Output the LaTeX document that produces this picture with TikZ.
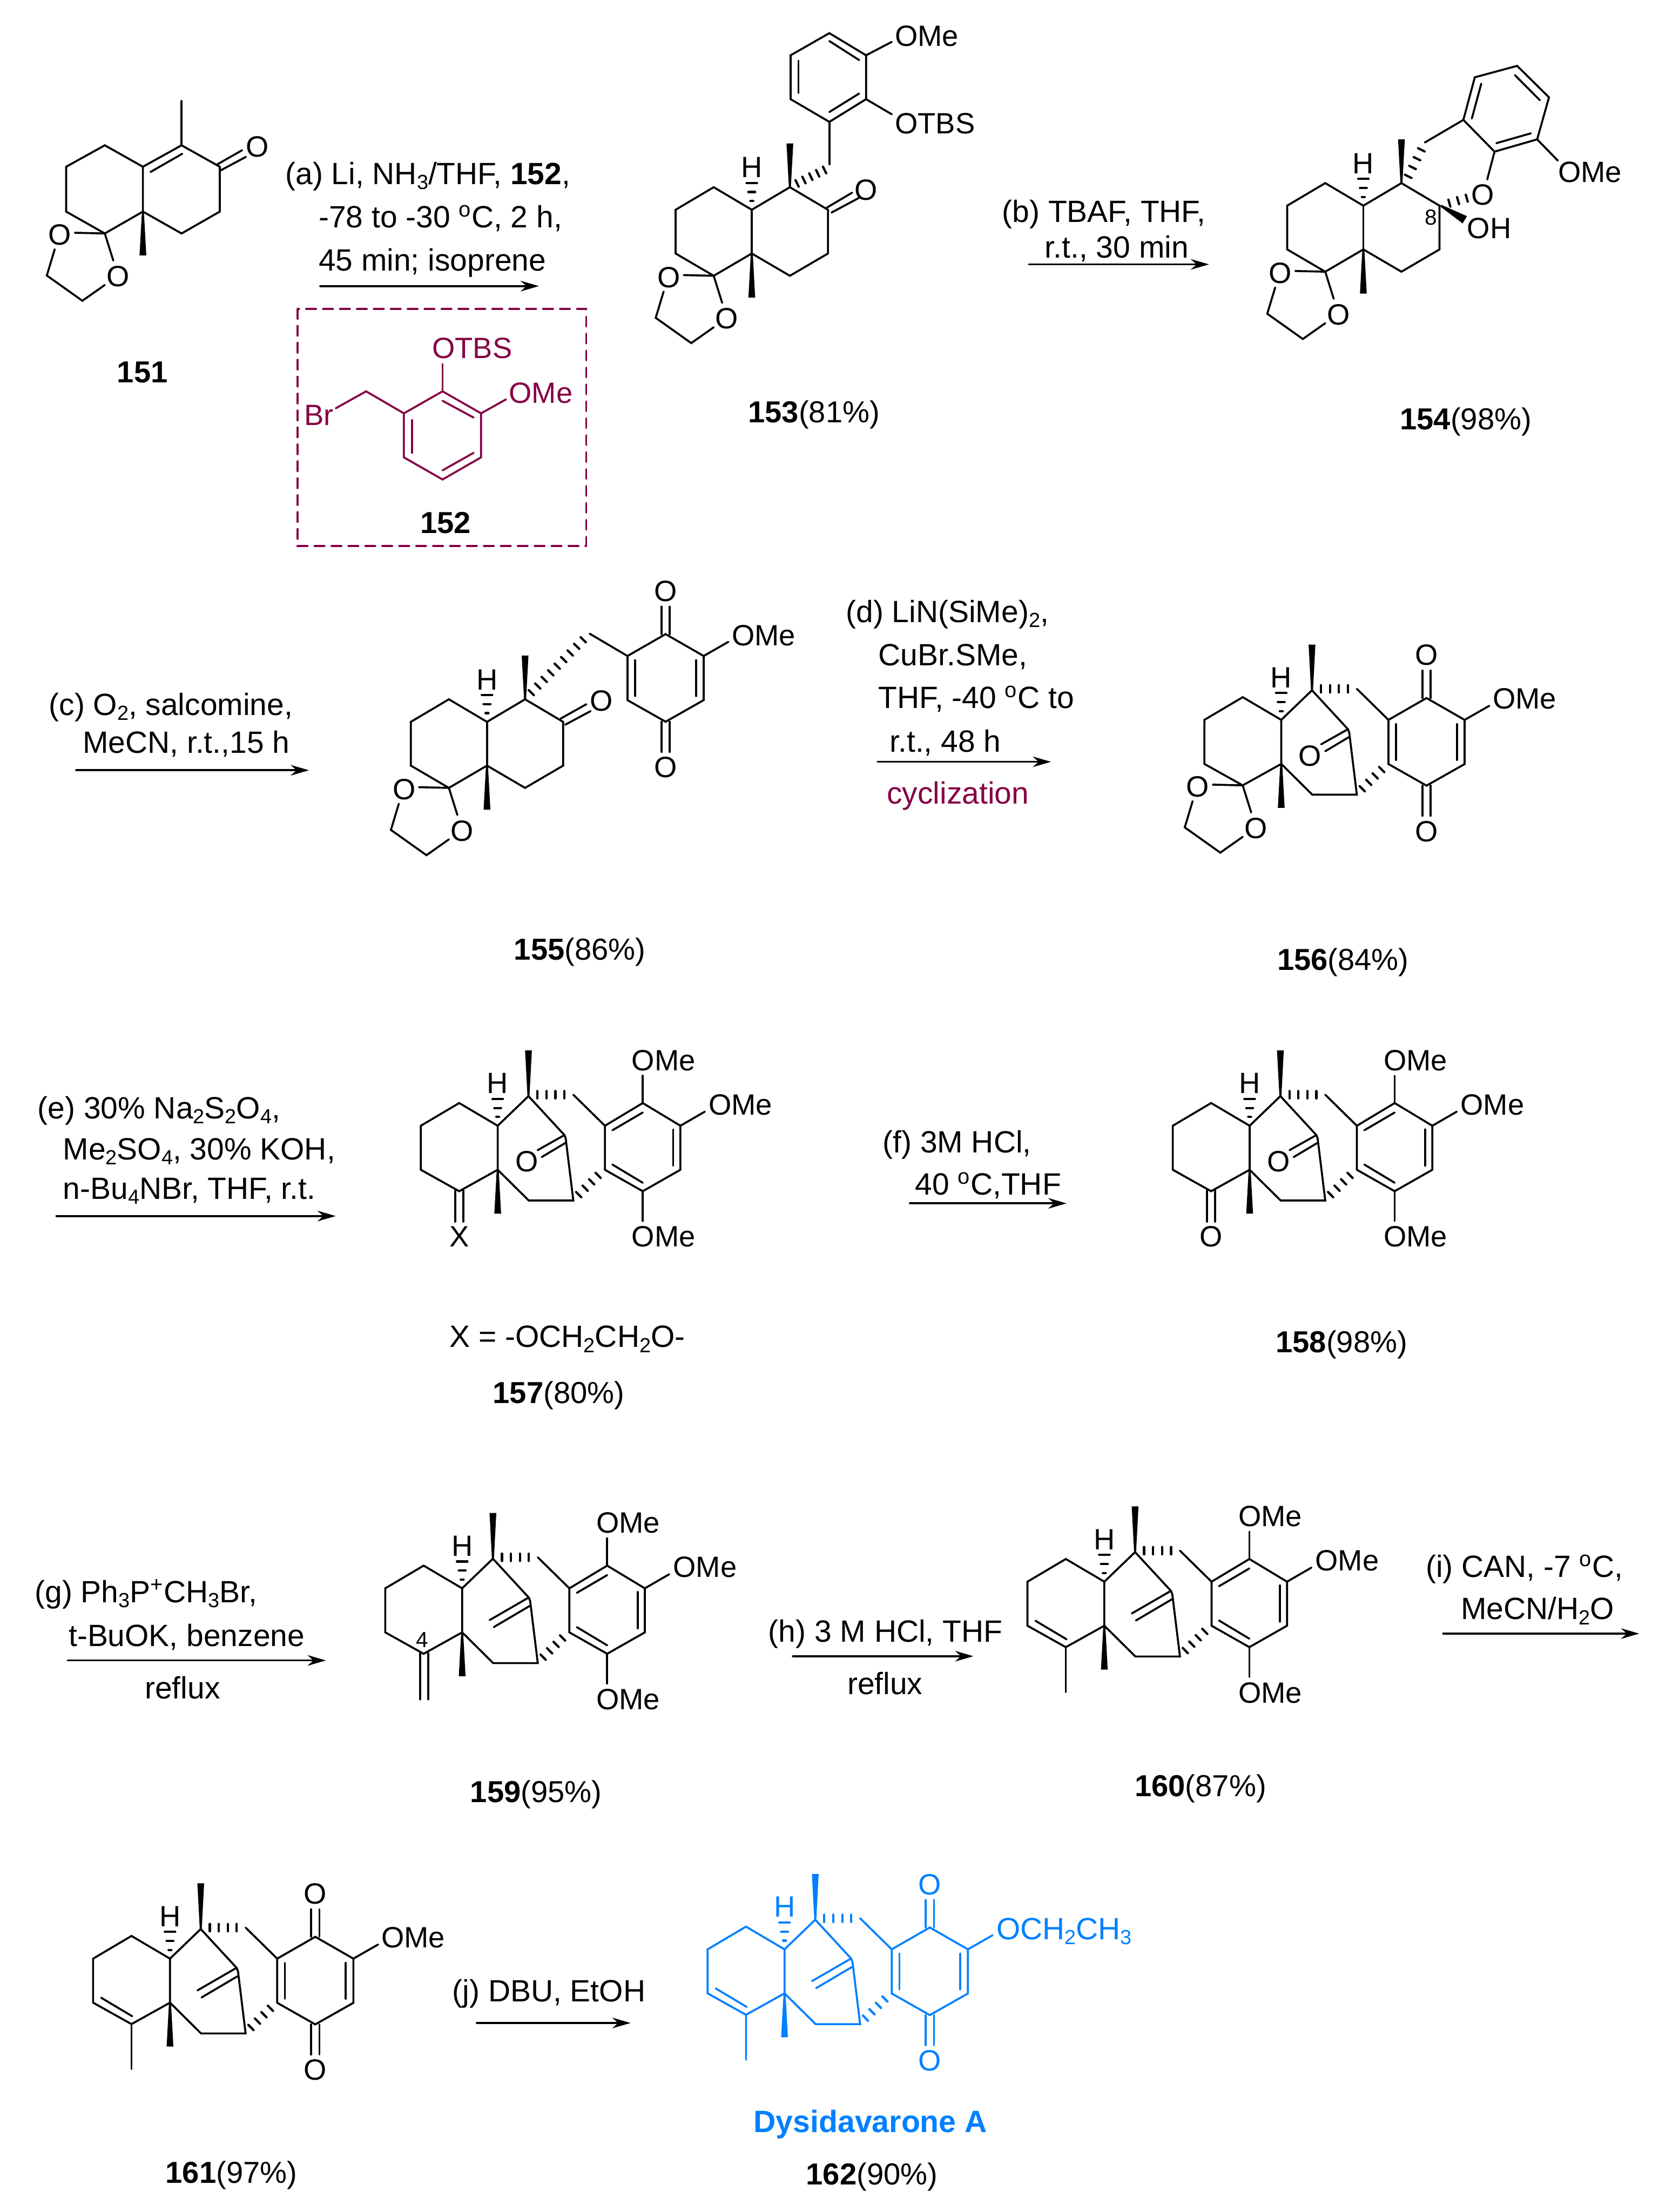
\documentclass[tikz,border=0pt]{standalone}
\usepackage{fontspec}
\setmainfont{Liberation Sans}
\usetikzlibrary{calc,arrows.meta}

\definecolor{plum}{HTML}{850045}
\definecolor{dysblue}{HTML}{0080FF}

\newcommand{\sbs}[1]{\raisebox{-3.6pt}{\fontsize{14.5}{16}\selectfont #1}}

\tikzset{
  every node/.style={inner sep=0pt,font=\fontsize{20.8}{24}\selectfont},
  small/.style={font=\fontsize{15.5}{18}\selectfont},
  lab/.style={font=\fontsize{21.5}{24}\selectfont},
  rgt/.style={anchor=base west,font=\fontsize{21.8}{24}\selectfont},
  rxn/.style={-{Stealth[length=13pt,width=7.5pt]}},
  hashln/.style={line width=1.6pt,line cap=round},
  boxln/.style={plum,dash pattern=on 7pt off 5pt},
}

% wedge from narrow end to wide end
\newcommand{\wedgeb}[3][2.4pt]{%
  \fill ($#2!.7pt!90:#3$) -- ($#2!.7pt!-90:#3$) -- ($#3!#1!90:#2$) -- ($#3!#1!-90:#2$) -- cycle;
}
% n short strokes between two points
\newcommand{\hashb}[3]{%
  \foreach \k in {1,...,#3}{%
    \pgfmathsetmacro{\frc}{(\k-1)/(#3-1)}
    \draw[hashln] ($($#1!2.6pt!90:#2$)!\frc!($#2!2.6pt!-90:#1$)$) -- ($($#1!2.6pt!-90:#2$)!\frc!($#2!2.6pt!90:#1$)$);
  }
}
\newcommand{\hydrogen}{%
  \node (h) at (0,-30) {H};
  \draw[hashln] (-3.7,-19) -- (3.7,-19);
  \draw[hashln] (-2.4,-12.6) -- (2.4,-12.6);
  \draw[hashln] (-1,-6.2) -- (1,-6.2);
}
\newcommand{\ketal}{%
  \draw (0,0) -- (-21.2,-0.5);
  \draw (0,0) -- (6,19.2);
  \draw (-35.5,11.2) -- (-41.1,29.8) -- (-15.9,47.7) -- (0,36.5);
  \node (o1) at (-31.8,1) {O};
  \node (o2) at (9.3,30.4) {O};
}
\newcommand{\decalin}{%
  \draw (0,0) -- (-27,-16) -- (-54,0) -- (-54,31) -- (-27,46.8) -- (0,31) -- (27,46.8) -- (54,31) -- (54,0) -- (27,-16) -- cycle;
  \draw (0,0) -- (0,31);
  \wedgeb{(27,-16)}{(27,-47)}
  \wedgeb{(0,31)}{(0,62.3)}
  \hydrogen
  \begin{scope}[shift={(-27,46.8)}]
    \ketal
  \end{scope}
}
% ring, bridge and the link to the aromatic ring
\newcommand{\bridged}{%
  \draw (0,0) -- (-27.3,-16.1) -- (-54.5,0) -- (-54.5,31.2) -- (-27.3,46.4) -- (0,31.2) -- cycle;
  \draw (0,31.2) -- (22,53) -- (53.6,53) -- (48.2,9) -- (47.3,6.6) -- (21.8,-21) -- (0,0);
  \wedgeb{(21.8,-21)}{(21.8,-53.4)}
  \wedgeb{(0,31.2)}{(0,62.3)}
  \hydrogen
  \hashb{(28.2,-22)}{(47.3,-22)}{4}
  \hashb{(57.4,48.8)}{(71.2,35.2)}{4}
  \draw (53.6,-22) -- (76,0);
}
\newcommand{\bridgeco}{%
  \draw (46.4,7.1) -- (28.3,17.3);
  \draw (47.8,12.3) -- (31.2,22.2);
  \node (o3) at (20.5,25.4) {O};
}
\newcommand{\bridgech}{%
  \draw (46.3,7) -- (19.5,22.5);
  \draw (48,12.4) -- (22.4,27.5);
}
\newcommand{\cyclohexene}{%
  \draw (-48.8,27.7) -- (-26.8,40.8);
  \draw (-27.3,46.4) -- (-27.3,78.3);
}
\newcommand{\arene}{%
  \begin{scope}[shift={(76,0)}]
    \draw (0,0) -- (26.8,-16.1) -- (53.5,0) -- (53.5,31.2) -- (26.8,46.4) -- (0,31.2) -- cycle;
    \draw (5.3,3.2) -- (26.8,-9.4);
    \draw (48.4,2.6) -- (48.4,28.3);
    \draw (5.3,27.5) -- (26.8,40.4);
    \draw (26.8,-16.1) -- (26.8,-35.5);
    \draw (53.5,0) -- (70.8,-10);
    \draw (26.8,46.4) -- (26.8,67.5);
    \node (ome1) at (41.6,-46.3) {OMe};
    \node (ome2) at (96.1,-15) {OMe};
    \node (ome3) at (41.6,78.7) {OMe};
  \end{scope}
}
\newcommand{\quinone}{%
  \draw (0,0) -- (27,-15.5) -- (54,0) -- (54,31.3) -- (27,46.6) -- (0,31.3) -- cycle;
  \draw (5.4,3) -- (5.4,28.4);
  \draw (48.6,3) -- (48.6,28.4);
  \draw (24.1,-15.5) -- (24.1,-35);
  \draw (29.9,-15.5) -- (29.9,-35);
  \draw (24.1,46.6) -- (24.1,68);
  \draw (29.9,46.6) -- (29.9,68);
  \draw (54,0) -- (71.5,-10);
  \node (o4) at (27,-46) {O};
  \node (o5) at (27,79) {O};
}

\begin{document}
\begin{tikzpicture}[x=1pt,y=-1pt,line width=1.4pt,line cap=round]
  \useasboundingbox (0,0) rectangle (1190,1568);

  % 151
  \draw (128.7,71.6) -- (128.7,103);
  \draw (128.7,103) -- (155.8,118.2) -- (155.8,150) -- (128.7,165.5) -- (101.3,150) -- (101.3,118.2) -- cycle;
  \draw (101.3,118.2) -- (74.3,103) -- (46.9,118.2) -- (46.9,150) -- (74.3,165.5) -- (101.3,150);
  \draw (106.7,121.9) -- (129.2,109);
  \draw (153.4,116.9) -- (171.6,106.5);
  \draw (156,121) -- (174.3,111.2);
  \node (o151) at (182.3,104) {O};
  \wedgeb{(101.3,150)}{(101.3,181)}
  \begin{scope}[shift={(74.3,165.5)},name prefix=m151-]
    \ketal
  \end{scope}
  \node[lab] (n151) at (101,264) {\textbf{151}};

  % step a
  \node[rgt] (a1) at (201.6,130.6) {(a) Li, NH\sbs{3}/THF, \textbf{152},};
  \node[rgt] (a2) at (225.2,161.2) {-78 to -30 \textsuperscript{o}C, 2 h,};
  \node[rgt] (a3) at (225.2,192) {45 min; isoprene};
  \coordinate (a4) at (227,202.8);
  \coordinate (a5) at (382,202.8);
  \draw[rxn] (a4) -- (a5);

  % 152
  \draw[boxln] (211,219) rectangle (415.5,387);
  \begin{scope}[plum]
    \draw (313.7,277.4) -- (341,293) -- (341,324.2) -- (313.7,339.9) -- (286.3,324.2) -- (286.3,293) -- cycle;
    \draw (313.7,284.1) -- (335.7,296);
    \draw (292.2,297.8) -- (292.2,321);
    \draw (313.7,333.4) -- (335.7,321);
    \draw (313.7,277.4) -- (313.7,258);
    \draw (341,293) -- (358.7,283.1);
    \draw (286.3,293) -- (259.5,277.4) -- (238,289.4);
    \node (otbs152) at (334.7,247) {OTBS};
    \node (ome152) at (383.4,278.7) {OMe};
    \node (br152) at (226,294.3) {Br};
  \end{scope}
  \node[lab] (n152) at (315.8,370.7) {\textbf{152}};

  % 153
  \begin{scope}[shift={(532.9,148.7)},name prefix=m153-]
    \decalin
    \draw (53,-1.4) -- (71.1,-12.1);
    \draw (56.5,2) -- (76.1,-8.5);
    \node (o) at (81.1,-14.1) {O};
    \hashb{(32.1,-18.7)}{(51.6,-28.2)}{5}
    \draw (55,-32.2) -- (55,-62.3);
    \draw (55,-62.3) -- (81,-78.4) -- (81,-109.5) -- (55,-125.2) -- (27.5,-109.5) -- (27.5,-78.4) -- cycle;
    \draw (76.1,-82.4) -- (55,-69.3);
    \draw (76.1,-106.1) -- (55,-119.6);
    \draw (33.1,-105.7) -- (33.1,-82.7);
    \draw (81,-109.5) -- (99.2,-119);
    \draw (81,-78.4) -- (99.2,-67.7);
    \node (ome) at (124,-123) {OMe};
    \node (otbs) at (129.9,-61.3) {OTBS};
  \end{scope}
  \node[lab] (n153) at (577,294) {\textbf{153}(81\%)};

  % step b
  \node[rgt] (b1) at (709.7,157.7) {(b) TBAF, THF,};
  \node[rgt] (b2) at (740,182.8) {r.t., 30 min};
  \coordinate (b3) at (729.3,187.4);
  \coordinate (b4) at (857,187.4);
  \draw[rxn] (b3) -- (b4);

  % 154
  \begin{scope}[shift={(966.4,145.8)},name prefix=m154-]
    \decalin
    \hashb{(31.8,-20.8)}{(41.1,-39.6)}{4}
    \draw (43.6,-44.8) -- (70.9,-60.8);
    \draw (70.9,-60.8) -- (79,-91) -- (109,-99.1) -- (131.6,-76.8) -- (123.2,-47) -- (93,-38.3) -- cycle;
    \draw (83.6,-86.5) -- (76.9,-61.8);
    \draw (107.4,-92.6) -- (125.1,-74.8);
    \draw (94.3,-44.3) -- (118.8,-51.3);
    \draw (93,-38.3) -- (87.8,-18.6);
    \node (o) at (84.7,-7.8) {O};
    \hashb{(61,-1.8)}{(73.3,-5.3)}{3}
    \wedgeb[3pt]{(54.9,0)}{(71.9,10)}
    \node (oh) at (89.2,16) {OH};
    \node[small] (c8) at (47.8,8.2) {8};
    \draw (123.2,-47) -- (137.8,-32);
    \node (ome) at (160.6,-23.8) {OMe};
  \end{scope}
  \node[lab] (n154) at (1039,299) {\textbf{154}(98\%)};

  % step c
  \node[rgt] (c1) at (34,507) {(c) O\sbs{2}, salcomine,};
  \node[rgt] (c2) at (58,534) {MeCN, r.t.,15 h};
  \coordinate (c3) at (54,546);
  \coordinate (c4) at (219,546);
  \draw[rxn] (c3) -- (c4);

  % 155
  \begin{scope}[shift={(345.2,511.7)},name prefix=m155-]
    \decalin
    \draw (52.2,-2.3) -- (70.4,-12.5);
    \draw (55.5,2) -- (73.4,-7.6);
    \node (o) at (81.2,-15) {O};
    \hashb{(31.4,-20.7)}{(68.2,-58.2)}{9}
    \draw (72.8,-62.5) -- (99.6,-46.7);
    \begin{scope}[shift={(99.6,-46.7)}]
      \quinone
      \node (ome) at (96.6,-14.7) {OMe};
    \end{scope}
  \end{scope}
  \node[lab] (n155) at (411,675) {\textbf{155}(86\%)};

  % step d
  \node[rgt] (d1) at (599,441) {(d) LiN(SiMe)\sbs{2},};
  \node[rgt] (d2) at (622,472) {CuBr.SMe,};
  \node[rgt] (d3) at (622,502) {THF, -40 \textsuperscript{o}C to};
  \node[rgt] (d4) at (630,533) {r.t., 48 h};
  \coordinate (d5) at (622,540);
  \coordinate (d6) at (745,540);
  \draw[rxn] (d5) -- (d6);
  \node[rgt,plum] (d7) at (628,570) {cyclization};

  % 156
  \begin{scope}[shift={(908.2,510.3)},name prefix=m156-]
    \bridged
    \bridgeco
    \begin{scope}[shift={(76,0)},name prefix=m156q-]
      \quinone
      \node (ome) at (96.5,-15) {OMe};
    \end{scope}
    \begin{scope}[shift={(-27.3,46.4)}]
      \ketal
    \end{scope}
  \end{scope}
  \node[lab] (n156) at (952,682) {\textbf{156}(84\%)};

  % step e
  \node[rgt] (e1) at (26,793) {(e) 30\% Na\sbs{2}S\sbs{2}O\sbs{4},};
  \node[rgt] (e2) at (44,822) {Me\sbs{2}SO\sbs{4}, 30\% KOH,};
  \node[rgt] (e3) at (44,850) {n-Bu\sbs{4}NBr, THF, r.t.};
  \coordinate (e4) at (40,862);
  \coordinate (e5) at (238,862);
  \draw[rxn] (e4) -- (e5);

  % 157
  \begin{scope}[shift={(352.8,798)},name prefix=m157-]
    \bridged
    \bridgeco
    \arene
    \draw (-30.2,46) -- (-30.2,68);
    \draw (-24.4,46) -- (-24.4,68);
    \node (x) at (-27.3,78.7) {X};
  \end{scope}
  \node[rgt] (x157) at (318,955) {X = -OCH\sbs{2}CH\sbs{2}O-};
  \node[lab] (n157) at (396,989) {\textbf{157}(80\%)};

  % step f
  \node[rgt] (f1) at (625,817) {(f) 3M HCl,};
  \node[rgt] (f2) at (648,847) {40 \textsuperscript{o}C,THF};
  \coordinate (f3) at (645,853);
  \coordinate (f4) at (756,853);
  \draw[rxn] (f3) -- (f4);

  % 158
  \begin{scope}[shift={(885.8,798)},name prefix=m158-]
    \bridged
    \bridgeco
    \arene
    \draw (-30.2,46) -- (-30.2,68);
    \draw (-24.4,46) -- (-24.4,68);
    \node (o) at (-27.3,78.7) {O};
  \end{scope}
  \node[lab] (n158) at (951,953) {\textbf{158}(98\%)};

  % step g
  \node[rgt] (g1) at (24,1136) {(g) Ph\sbs{3}P\textsuperscript{+}CH\sbs{3}Br,};
  \node[rgt] (g2) at (48,1167) {t-BuOK, benzene};
  \coordinate (g3) at (48,1177);
  \coordinate (g4) at (231,1177);
  \draw[rxn] (g3) -- (g4);
  \node[rgt] (g5) at (102,1204) {reflux};

  % 159
  \begin{scope}[shift={(327.6,1125.9)},name prefix=m159-]
    \bridged
    \bridgech
    \arene
    \draw (-29.8,46) -- (-29.8,78.7);
    \draw (-24.1,46) -- (-24.1,78.7);
    \node[small] (c4) at (-28.3,36.6) {4};
  \end{scope}
  \node[lab] (n159) at (380,1272) {\textbf{159}(95\%)};

  % step h
  \node[rgt] (h1) at (544,1164) {(h) 3 M HCl, THF};
  \coordinate (h2) at (562,1174);
  \coordinate (h3) at (690,1174);
  \draw[rxn] (h2) -- (h3);
  \node[rgt] (h4) at (600,1201) {reflux};

  % 160
  \begin{scope}[shift={(782.8,1121.2)},name prefix=m160-]
    \bridged
    \bridgech
    \arene
    \cyclohexene
  \end{scope}
  \node[lab] (n160) at (851,1268) {\textbf{160}(87\%)};

  % step i
  \node[rgt] (i1) at (1010,1118) {(i) CAN, -7 \textsuperscript{o}C,};
  \node[rgt] (i2) at (1035,1148) {MeCN/H\sbs{2}O};
  \coordinate (i3) at (1023,1158);
  \coordinate (i4) at (1162,1158);
  \draw[rxn] (i3) -- (i4);

  % 161
  \begin{scope}[shift={(120.5,1388.4)},name prefix=m161-]
    \bridged
    \bridgech
    \cyclohexene
    \begin{scope}[shift={(76,0)}]
      \quinone
      \node (ome) at (96.3,-15) {OMe};
    \end{scope}
  \end{scope}
  \node[lab] (n161) at (164,1542) {\textbf{161}(97\%)};

  % step j
  \node[rgt] (j1) at (320,1419) {(j) DBU, EtOH};
  \coordinate (j2) at (338,1434);
  \coordinate (j3) at (447,1434);
  \draw[rxn] (j2) -- (j3);

  % 162
  \begin{scope}[shift={(556.1,1381.8)},name prefix=m162-,dysblue]
    \bridged
    \bridgech
    \cyclohexene
    \begin{scope}[shift={(76,0)}]
      \quinone
      \node[rgt] (oet) at (73.5,-7) {OCH\sbs{2}CH\sbs{3}};
    \end{scope}
  \end{scope}
  \node[lab,dysblue] (n162a) at (617,1506) {\fontsize{21.9}{24}\selectfont\textbf{Dysidavarone A}};
  \node[lab] (n162) at (618,1543) {\textbf{162}(90\%)};
\end{tikzpicture}
\end{document}
